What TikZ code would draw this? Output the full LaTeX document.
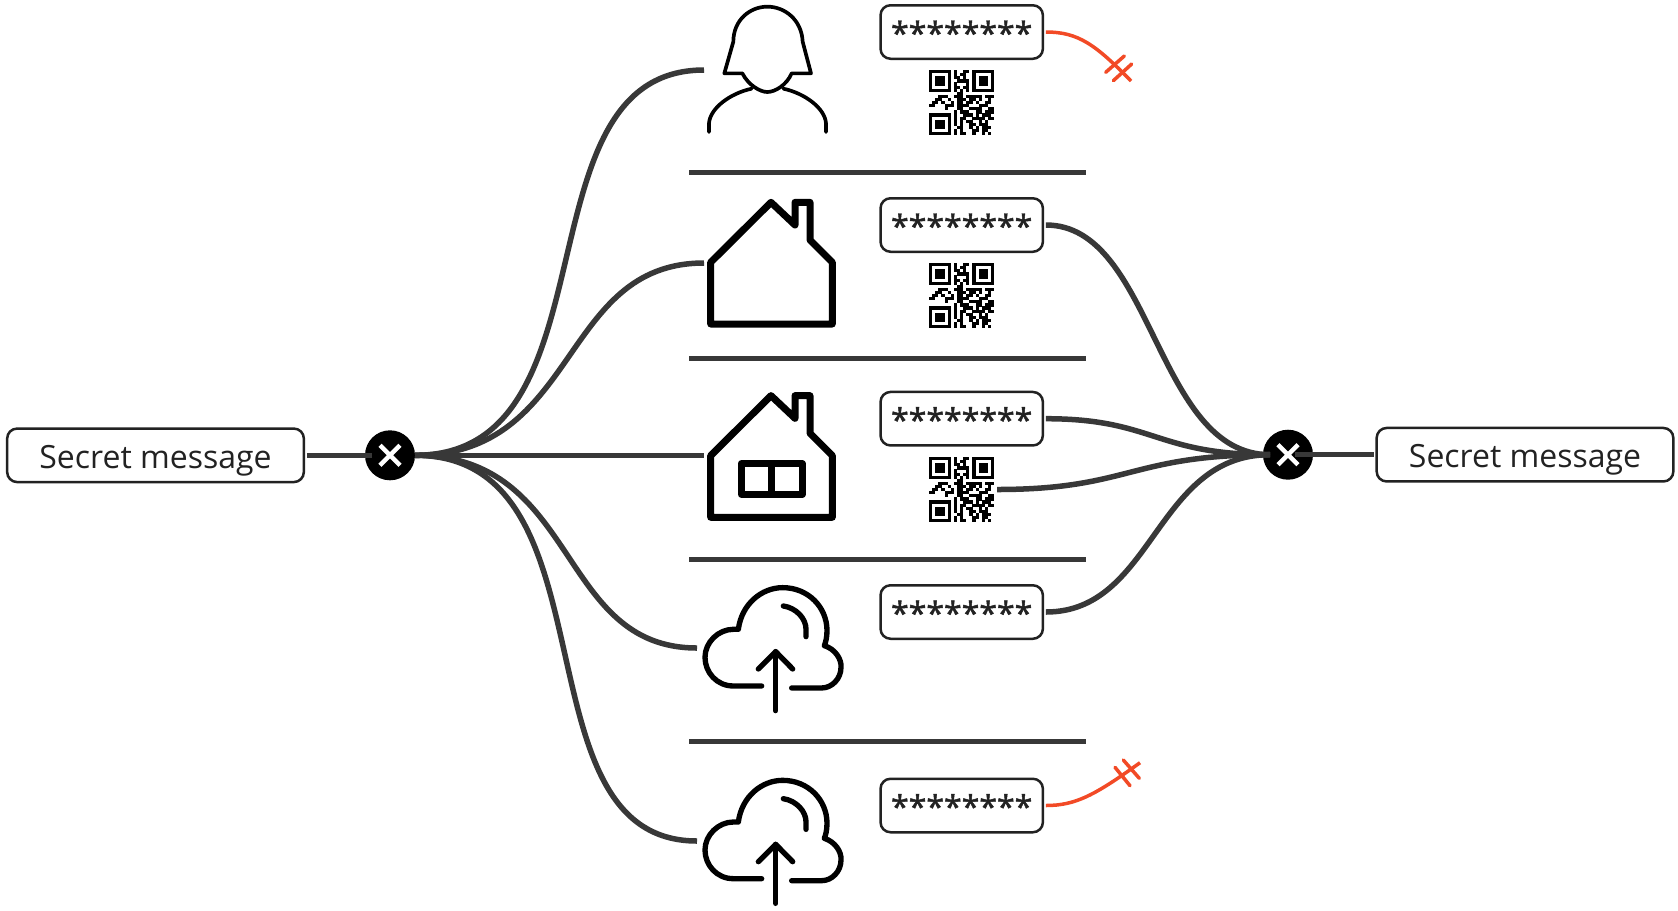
\documentclass[tikz,border=0pt]{standalone}
\usepackage{fontspec}
\setmainfont{Open Sans}
\newfontfamily\starfont[FakeBold=1.5]{Open Sans}
\usetikzlibrary{calc}
\definecolor{ink}{HTML}{222222}
\definecolor{conn}{HTML}{383838}
\definecolor{alert}{HTML}{F24A26}
\newcount\qrcol
\makeatletter
\def\qrrow#1{\qrcol=0 \qr@scan#1\relax}
\def\qr@scan#1{\ifx#1\relax\else\if1#1\fill (\qrcol*3.1,\qrj*3.1) rectangle ++(3.2,3.2);\fi\advance\qrcol by 1 \expandafter\qr@scan\fi}
\makeatother
\tikzset{
  box/.style={draw=ink,line width=.075cm,fill=white,rounded corners=.3cm,text=ink,
    outer sep=.09cm,minimum height=1.605cm,inner sep=0pt,text height=.9cm,text depth=.132cm,
    font=\fontsize{27.3pt}{32pt}\selectfont},
  pwbox/.style={box,minimum width=4.87cm,font=\fontsize{27.3pt}{32pt}\selectfont\starfont},
  msgbox/.style={box,minimum width=8.9cm},
  hub/.style={circle,fill=black,minimum size=1.5cm,inner sep=0pt,outer sep=0pt},
  port/.style={inner sep=0pt,outer sep=0pt,anchor=west},
  qrport/.style={inner sep=0pt,outer sep=.09cm,minimum size=1.95cm},
  cx/.style={white,line width=.135cm},
  wire/.style={conn,line width=.165cm},
  sep/.style={conn,line width=.15cm},
  cut/.style={alert,line width=.105cm,line cap=round},
  thinicon/.style={black,line width=.11cm,line cap=round,line join=round},
  boldicon/.style={black,line width=.21cm,line cap=round,line join=round},
  cloudicon/.style={black,line width=.16cm,line cap=round,line join=round},
}
\newcommand{\qrcode}[2]{%
  \begin{scope}[shift={(#1,#2)}]
    \foreach \qrj/\qrbits in {0/111111101001101111111,1/100000101011001000001,2/101110101101001011101,
      3/101110100111101011101,4/101110101000101011101,5/100000101101101000001,6/111111101010101111111,
      7/000000000110000000000,8/000111001110111110111,9/001100100111011010010,10/011010010110110100110,
      11/110001110111100011100,12/000001000110011110011,13/000000001011100110111,14/111111101001110101110,
      15/100000101011001111011,16/101110101010110010100,17/101110101010011011100,18/101110100110010101110,
      19/100000101010001101100,20/111111101011001001010}{\expandafter\qrrow\expandafter{\qrbits}}
  \end{scope}}
\newcommand{\houseicon}[1]{%
  \draw[boldicon,shift={(680,#1)},scale=1/3] (273,607) -- (92,787) -- (92,972) -- (457,972) -- (457,787)
    -- (390,720) -- (390,607) -- (345,607) -- (345,675) -- cycle;}
\newcommand{\cloudglyph}[1]{%
  \begin{scope}[shift={(680,#1)},scale=1/3]
    \draw[cloudicon] (245,416) -- (160,416) .. controls (110,416) and (75,375) .. (75,330)
      .. controls (75,285) and (115,246) .. (160,246) -- (175,246)
      .. controls (185,170) and (245,121) .. (308,121) .. controls (385,121) and (441,180) .. (441,250)
      .. controls (441,270) and (437,285) .. (433,295) .. controls (465,305) and (485,335) .. (483,360)
      .. controls (483,395) and (455,422) .. (425,422) -- (335,422);
    \draw[cloudicon] (310,176) .. controls (350,182) and (378,215) .. (378,245) -- (378,268);
    \draw[cloudicon] (287,490) -- (287,313);
    \draw[cloudicon] (235,365) -- (287,313) -- (338,365);
  \end{scope}}
\begin{document}
\begin{tikzpicture}[x=.03cm,y=-.03cm]
\useasboundingbox[fill=white] (0,0) rectangle (1678,910);
% separators
\foreach \yy/\nm in {172/s1,358.5/s2,559.5/s3,741/s4}{
  \coordinate (\nm a) at (689,\yy); \coordinate (\nm b) at (1086,\yy);
  \draw[sep] (\nm a) -- (\nm b);}
% icon ports
\node[port,minimum width=3.6cm,minimum height=3.9cm] (icon1) at (704,70) {};
\node[port,minimum width=3.6cm,minimum height=3.9cm] (icon2) at (704,263) {};
\node[port,minimum width=3.6cm,minimum height=3.9cm] (icon3) at (704,455.3) {};
\node[port,minimum width=4cm,minimum height=3.9cm] (icon4) at (697,648) {};
\node[port,minimum width=4cm,minimum height=3.9cm] (icon5) at (697,841) {};
% nodes
\node[hub] (c1) at (390,455.3) {};
\node[hub] (c2) at (1288,454.7) {};
\draw[cx] (380,445.3) -- (400,465.3) (380,465.3) -- (400,445.3);
\draw[cx] (1278,444.7) -- (1298,464.7) (1278,464.7) -- (1298,444.7);
\node[msgbox] (msgL) at (155.5,455.3) {Secret message};
\node[msgbox] (msgR) at (1525,454.7) {Secret message};
\node[pwbox] (p1) at (961.7,32) {********};
\node[pwbox] (p2) at (961.7,225) {********};
\node[pwbox] (p3) at (961.7,418.7) {********};
\node[pwbox] (p4) at (961.7,612) {********};
\node[pwbox] (p5) at (961.7,805.5) {********};
\node[qrport] (q3) at (961.5,489.5) {};
\qrcode{929}{70}\qrcode{929}{263}\qrcode{929}{457}
% icons
\begin{scope}[shift={(680,0)},scale=1/3]
  \draw[thinicon] (87,396) -- (87,370) .. controls (90,325) and (150,280) .. (215,266);
  \draw[thinicon] (438,396) -- (438,370) .. controls (435,325) and (375,280) .. (310,266);
  \draw[thinicon] (133,220) -- (160,125) .. controls (160,60) and (210,20) .. (262,20)
    .. controls (315,20) and (365,60) .. (368,125) -- (393,220) -- (335,220)
    .. controls (320,255) and (285,276) .. (262,276) .. controls (240,276) and (205,255) .. (187,220) -- cycle;
\end{scope}
\houseicon{0}\houseicon{193.3}
\draw[boldicon,shift={(680,193.3)},scale=1/3] (184,811) rectangle (367,903) (275,811) -- (275,903);
\cloudglyph{547.3}\cloudglyph{740}
% connectors
\draw[wire,shorten >=-.21cm] (msgL.east) -- (c1.west);
\draw[wire,shorten <=-.54cm] (c2.east) -- (msgR.west);
\draw[wire] (c1.east) .. controls +(205,0) and +(-190,0) .. (icon1.west);
\draw[wire] (c1.east) .. controls +(165,0) and +(-145,0) .. (icon2.west);
\draw[wire] (c1.east) -- (icon3.west);
\draw[wire] (c1.east) .. controls +(165,0) and +(-141,0) .. (icon4.west);
\draw[wire] (c1.east) .. controls +(205,0) and +(-185,0) .. (icon5.west);
\draw[wire,shorten >=-.21cm] (p2.east) .. controls +(108,0) and +(-108,0) .. (c2.west);
\draw[wire,shorten >=-.21cm] (p3.east) .. controls +(108,0) and +(-108,0) .. (c2.west);
\draw[wire,shorten >=-.21cm] (q3.east) .. controls +(133,0) and +(-133,0) .. (c2.west);
\draw[wire,shorten >=-.21cm] (p4.east) .. controls +(108,0) and +(-108,0) .. (c2.west);
% cut connectors
\coordinate (end1) at (1131,81);
\coordinate (end5) at (1140,762.7);
\draw[cut,line cap=butt] (p1.east) .. controls +(32,0) and (1095,44) .. (end1);
\draw[cut] (1105.7,72.3) -- (1124.3,56) (1113.3,80.7) -- (1131.7,64);
\draw[cut,line cap=butt] (p5.east) .. controls +(30,0) and (1095,795) .. (end5);
\draw[cut] (1115,767.3) -- (1130,785.7) (1123.3,760) -- (1139.3,778.3);
\end{tikzpicture}
\end{document}
